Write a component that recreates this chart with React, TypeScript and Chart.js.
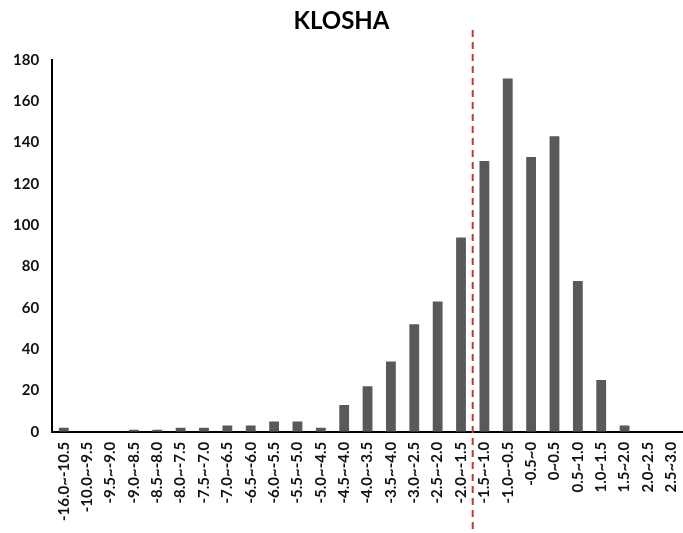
import React, { useRef, useEffect } from 'react';
import Chart from 'chart.js/auto';

const categories = [
    '-16.0~-10.5', '-10.0~-9.5', '-9.5~-9.0', '-9.0~-8.5', '-8.5~-8.0', '-8.0~-7.5',
    '-7.5~-7.0', '-7.0~-6.5', '-6.5~-6.0', '-6.0~-5.5', '-5.5~-5.0', '-5.0~-4.5',
    '-4.5~-4.0', '-4.0~-3.5', '-3.5~-4.0', '-3.0~-2.5', '-2.5~-2.0', '-2.0~-1.5',
    '-1.5~-1.0', '-1.0~-0.5', '-0.5~0', '0~0.5', '0.5~1.0', '1.0~1.5',
    '1.5~2.0', '2.0~2.5', '2.5~3.0',
];
const counts = [
    2, 0, 0, 1, 1, 2, 2, 3, 3, 5, 5, 2, 13, 22, 34, 52, 63, 94,
    131, 171, 133, 143, 73, 25, 3, 0, 0,
];
const yTicks = [0, 20, 40, 60, 80, 100, 120, 140, 160, 180];
// cut-off sits between "-2.0~-1.5" and "-1.5~-1.0"
const cutoffIndex = 17.5;

const FONT = 'Lato, "Open Sans", sans-serif';

const cutoffLine = {
    id: 'cutoffLine',
    afterDatasetsDraw(chart: Chart) {
        const { ctx, scales } = chart;
        const x = scales.x.getPixelForValue(cutoffIndex);
        ctx.save();
        ctx.strokeStyle = '#c0392b';
        ctx.lineWidth = 2;
        ctx.setLineDash([7, 5]);
        ctx.beginPath();
        ctx.moveTo(x, 30);
        ctx.lineTo(x, chart.height);
        ctx.stroke();
        ctx.restore();
    },
};

const App: React.FC = () => {
    const canvasRef = useRef<HTMLCanvasElement>(null);
    const chartRef = useRef<Chart | null>(null);

    useEffect(() => {
        document.body.style.margin = '0';
        if (chartRef.current) chartRef.current.destroy();
        if (!canvasRef.current) return;

        chartRef.current = new Chart(canvasRef.current, {
            type: 'bar',
            data: {
                labels: categories,
                datasets: [{
                    label: 'KLOSHA',
                    data: counts,
                    backgroundColor: '#595959',
                    barPercentage: 0.42,
                    categoryPercentage: 1,
                }],
            },
            options: {
                animation: false,
                responsive: true,
                maintainAspectRatio: false,
                layout: { padding: { left: 0, right: 0, top: 0, bottom: 2 } },
                plugins: {
                    legend: { display: false },
                    tooltip: { enabled: false },
                    title: {
                        display: true,
                        text: 'KLOSHA',
                        color: '#000',
                        font: { family: FONT, size: 24, weight: 'bold' },
                        padding: { top: 7, bottom: 24 },
                    },
                },
                scales: {
                    x: {
                        grid: { display: false, drawTicks: false },
                        border: { color: '#000', width: 2 },
                        afterFit: (scale: any) => {
                            // let the axis run to the right edge as in the reference
                            scale.paddingLeft = 0;
                            scale.paddingRight = 0;
                        },
                        ticks: {
                            color: '#111',
                            font: { family: FONT, size: 15, weight: 'bold' },
                            minRotation: 90,
                            maxRotation: 90,
                            autoSkip: false,
                            padding: 10,
                        },
                    },
                    y: {
                        min: 0,
                        max: 180,
                        afterBuildTicks: (axis: any) => {
                            axis.ticks = yTicks.map((v) => ({ value: v }));
                        },
                        grid: { display: false, drawTicks: false },
                        border: { color: '#000', width: 2 },
                        ticks: {
                            color: '#111',
                            font: { family: FONT, size: 15, weight: 'bold' },
                            padding: 13,
                        },
                    },
                },
            },
            plugins: [cutoffLine],
        });

        return () => { if (chartRef.current) chartRef.current.destroy(); };
    }, []);

    return (
        <div style={{ width: 683, height: 533, position: 'relative' }}>
            <canvas ref={canvasRef}></canvas>
        </div>
    );
};

export default App;
